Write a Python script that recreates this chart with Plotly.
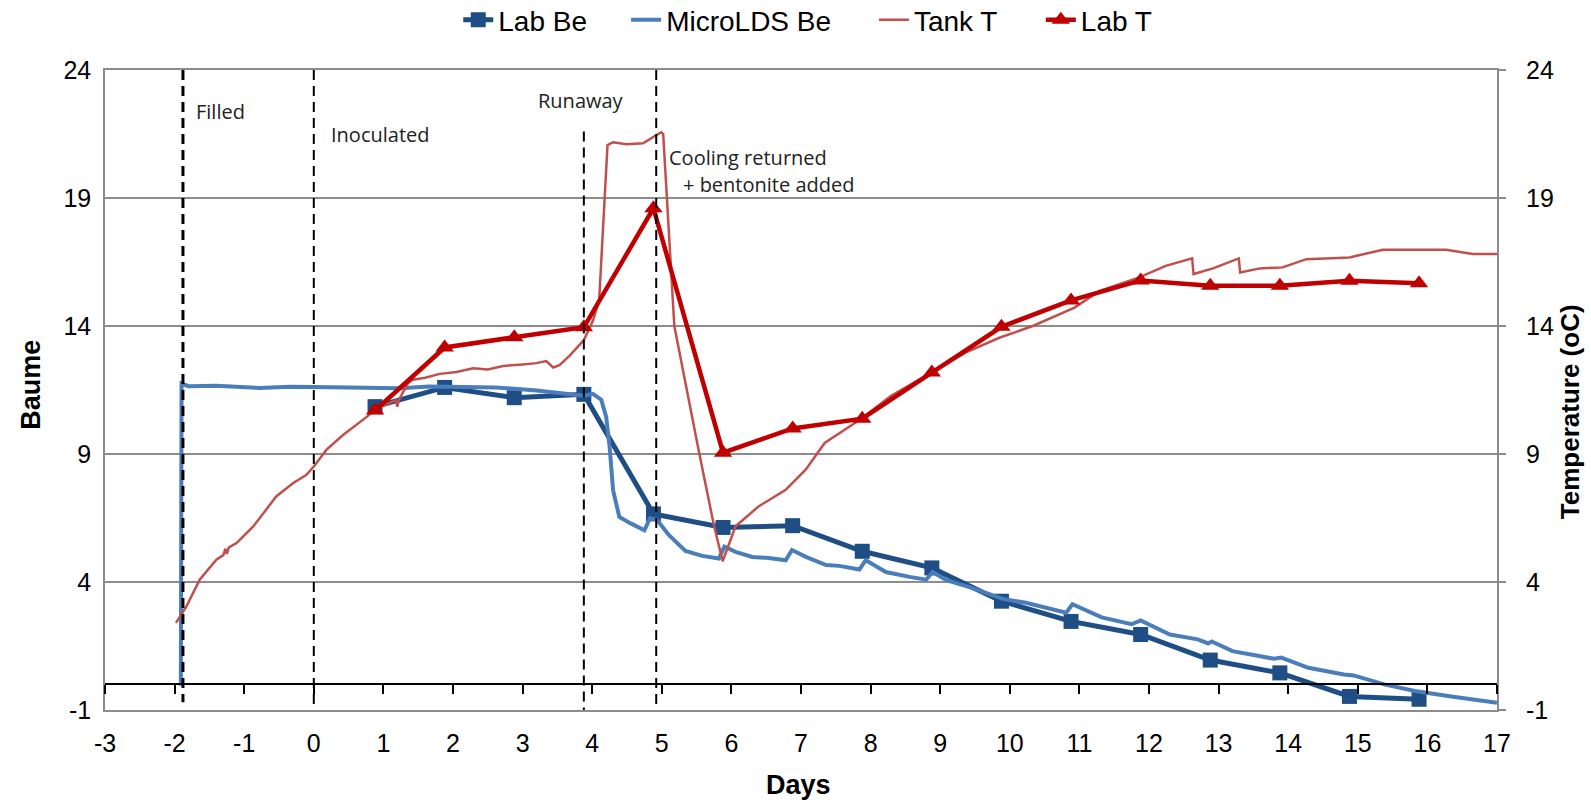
import plotly.graph_objects as go

# ---------------- data ----------------
lab_days = [0.88, 1.88, 2.88, 3.88, 4.88, 5.88, 6.88, 7.88, 8.88, 9.88, 10.88, 11.88, 12.88, 13.88, 14.88, 15.88]
lab_be = [10.85, 11.6, 11.2, 11.33, 6.66, 6.13, 6.2, 5.2, 4.55, 3.25, 2.46, 1.95, 0.95, 0.45, -0.47, -0.58]
lab_t = [10.7, 13.16, 13.56, 13.95, 18.6, 9.05, 10.0, 10.38, 12.18, 13.97, 15.0, 15.78, 15.57, 15.57, 15.77, 15.67]

micro_days = [-1.91, -1.9, -1.8, -1.4, -0.78, -0.35, 0.0, 0.52, 1.24, 1.66, 2.62, 3.2, 3.58, 3.88, 4.01,
              4.13, 4.2, 4.25, 4.3, 4.39, 4.56, 4.75, 4.83, 4.93, 5.1, 5.34, 5.58, 5.82, 5.9, 6.06,
              6.3, 6.54, 6.78, 6.87, 7.07, 7.36, 7.55, 7.84, 7.93, 8.22, 8.56, 8.8, 8.89, 9.09, 9.42,
              9.9, 10.23, 10.66, 10.81, 10.9, 11.32, 11.75, 11.88, 12.3, 12.7, 12.85, 12.9, 13.2, 13.8,
              13.9, 14.29, 14.8, 14.94, 15.38, 15.82, 16.32, 17.0]
micro_be = [-0.05, 11.75, 11.65, 11.67, 11.58, 11.63, 11.62, 11.6, 11.57, 11.64, 11.6, 11.48, 11.35, 11.28, 11.35,
            11.12, 10.46, 9.29, 7.59, 6.54, 6.28, 6.02, 6.49, 6.43, 5.84, 5.21, 5.02, 4.92, 5.38, 5.18,
            4.98, 4.94, 4.85, 5.25, 4.98, 4.66, 4.63, 4.49, 4.85, 4.39, 4.2, 4.09, 4.39, 4.07, 3.8,
            3.34, 3.19, 2.93, 2.8, 3.13, 2.62, 2.35, 2.5, 1.95, 1.76, 1.6, 1.68, 1.3, 1.0,
            1.05, 0.65, 0.39, 0.35, 0.0, -0.26, -0.46, -0.72]

tank_days = [-1.98, -1.83, -1.64, -1.4, -1.3, -1.27, -1.25, -1.22, -1.11, -0.87, -0.54, -0.3, -0.11, 0.0,
             0.18, 0.42, 0.76, 0.87, 1.0, 1.18, 1.2, 1.22, 1.35, 1.42, 1.6, 1.81, 2.05, 2.29, 2.5, 2.72,
             3.0, 3.2, 3.34, 3.44, 3.53, 3.68, 3.88, 4.01, 4.1, 4.18, 4.22, 4.3, 4.49, 4.73, 4.87,
             4.99, 5.02, 5.07, 5.18, 5.54, 5.75, 5.875, 6.06, 6.39, 6.78, 7.07, 7.34, 7.85, 8.29,
             8.87, 9.37, 9.85, 10.33, 10.93, 11.29, 11.86, 12.24, 12.62, 12.64, 12.92, 13.29, 13.31,
             13.59, 13.92, 14.26, 14.88, 15.36, 16.27, 16.65, 17.04]
tank_t = [2.4, 3.05, 4.09, 4.87, 5.05, 5.3, 5.1, 5.35, 5.52, 6.17, 7.34, 7.86, 8.18, 8.51,
          9.16, 9.74, 10.45, 10.7, 10.9, 11.1, 10.85, 11.1, 11.75, 11.9, 11.98, 12.13, 12.2, 12.35, 12.3, 12.44,
          12.5, 12.55, 12.63, 12.38, 12.47, 12.85, 13.45, 14.2, 15.0, 19.0, 21.07, 21.18, 21.1, 21.14, 21.36,
          21.57, 21.5, 19.0, 14.0, 9.0, 6.2, 4.81, 6.18, 6.95, 7.6, 8.4, 9.43, 10.35, 11.26,
          12.18, 12.97, 13.54, 14.0, 14.72, 15.37, 15.9, 16.35, 16.64, 16.03, 16.25, 16.64, 16.09,
          16.25, 16.29, 16.61, 16.68, 16.98, 16.98, 16.81, 16.81]

event_days = [-1.88, 0.0, 3.88, 4.92]
event_tops = [24, 24, 21.6, 24]
event_bottoms = [-0.7, -1, -1, -1]
event_widths = [3, 2, 2, 2]

notes = ["Filled", "Inoculated", "Runaway", "Cooling returned", "+ bentonite added"]
note_x = [-1.72, 0.22, 3.84, 5.08, 5.28]
note_y = [22.38, 21.5, 22.8, 20.6, 19.52]
note_anchor = ["left", "left", "center", "left", "left"]

x_ticks = list(range(-3, 18))
x_tick_text = [str(v) for v in x_ticks]
y_ticks = [-1, 4, 9, 14, 19, 24]
y_tick_text = [str(v) for v in y_ticks]

# ---------------- geometry (page px; body margin removed by post_script) ----------------
W, H = 1591, 807
ML, MT, PW, PH = 104.5, 70, 1393, 640.5


def px_x(page_x):
    return (page_x - ML) / PW


def px_y(page_y):
    return (MT + PH - page_y) / PH


AX_FONT = "Liberation Sans, Arial, sans-serif"
GRID = "#8c8c8c"

fig = go.Figure()
fig.add_trace(go.Scatter(x=lab_days, y=lab_be, name="Lab Be", mode="lines+markers", legend="legend",
                         line=dict(color="#1F4E86", width=5),
                         marker=dict(symbol="square", size=15, color="#1F4E86")))
fig.add_trace(go.Scatter(x=micro_days, y=micro_be, name="MicroLDS Be", mode="lines", legend="legend2",
                         line=dict(color="#4A7EBB", width=4)))
fig.add_trace(go.Scatter(x=tank_days, y=tank_t, name="Tank T", mode="lines", yaxis="y2", legend="legend3",
                         line=dict(color="#C0504D", width=2.5)))
fig.add_trace(go.Scatter(x=lab_days, y=lab_t, name="Lab T", mode="lines+markers", yaxis="y2",
                         legend="legend4", line=dict(color="#C00000", width=4.5),
                         marker=dict(symbol="triangle-up", size=16, color="#C00000")))
# carrier for the zero-crossing axis
fig.add_trace(go.Scatter(x=[x_ticks[0], x_ticks[-1]], y=[None, None], xaxis="x2", yaxis="y",
                         showlegend=False, hoverinfo="skip", mode="lines"))

shapes = []
for d, top, bot, w in zip(event_days, event_tops, event_bottoms, event_widths):
    shapes.append(dict(type="line", xref="x", yref="y", x0=d, x1=d, y0=top, y1=bot,
                       line=dict(color="black", width=w, dash="10px,6px")))

annotations = []
for t, x, y, a in zip(notes, note_x, note_y, note_anchor):
    annotations.append(dict(text=t, x=x, y=y, xref="x", yref="y", xanchor=a, yanchor="middle",
                            showarrow=False, font=dict(family="Open Sans, Noto Sans, sans-serif",
                                                       size=20, color="#222222")))
# right-hand tick labels
for v, t in zip(y_ticks, y_tick_text):
    annotations.append(dict(text=t, x=px_x(1525), y=v, xref="paper", yref="y2", xanchor="left",
                            yanchor="middle", showarrow=False,
                            font=dict(family=AX_FONT, size=25, color="black")))
# axis titles
annotations.append(dict(text="<b>Days</b>", xref="paper", yref="paper", x=px_x(798),
                        y=px_y(786), xanchor="center", yanchor="middle", showarrow=False,
                        font=dict(family=AX_FONT, size=27, color="black")))
annotations.append(dict(text="<b>Baume</b>", xref="paper", yref="paper", x=px_x(30.5),
                        y=px_y(385), xanchor="center", yanchor="middle", showarrow=False,
                        textangle=-90, font=dict(family=AX_FONT, size=27, color="black")))
annotations.append(dict(text="<b>Temperature (oC)</b>", xref="paper", yref="paper",
                        x=px_x(1570), y=px_y(412), xanchor="center",
                        yanchor="middle", showarrow=False, textangle=-90,
                        font=dict(family=AX_FONT, size=26, color="black")))

legend_text_starts = [500, 668, 916, 1083]
legends = {}
for i, ts in enumerate(legend_text_starts):
    key = "legend" if i == 0 else f"legend{i + 1}"
    legends[key] = dict(orientation="h", x=px_x(ts - 42), xanchor="left", y=px_y(20), yanchor="middle",
                        font=dict(family=AX_FONT, size=28, color="black"), bgcolor="rgba(0,0,0,0)",
                        borderwidth=0)

fig.update_layout(
    width=W, height=H,
    margin=dict(l=ML, r=W - ML - PW, t=MT, b=H - MT - PH, autoexpand=False),
    plot_bgcolor="white", paper_bgcolor="white",
    font=dict(family=AX_FONT, size=25, color="black"),
    showlegend=True,
    xaxis=dict(range=[x_ticks[0], x_ticks[-1]], tickvals=x_ticks, ticktext=x_tick_text, ticks="",
               showgrid=False, zeroline=False, showline=True, linecolor=GRID, linewidth=1.5, mirror=True,
               ticklabelstandoff=10, tickfont=dict(size=25)),
    xaxis2=dict(range=[x_ticks[0], x_ticks[-1]], tickvals=x_ticks, overlaying="x", anchor="free",
                position=(0 - y_ticks[0]) / (y_ticks[-1] - y_ticks[0]), side="bottom",
                ticks="outside", ticklen=9, tickwidth=1.5, tickcolor="black",
                showline=True, linecolor="black", linewidth=1.5, showgrid=False, zeroline=False,
                showticklabels=False),
    yaxis=dict(range=[y_ticks[0], y_ticks[-1]], tickvals=y_ticks, ticktext=y_tick_text, showgrid=True,
               gridcolor=GRID, gridwidth=1.5, zeroline=False, showline=True, linecolor=GRID, linewidth=1.5,
               ticks="", ticklabelstandoff=7, tickfont=dict(size=25)),
    yaxis2=dict(range=[y_ticks[0], y_ticks[-1]], tickvals=y_ticks, overlaying="y",
                side="right", showgrid=False, zeroline=False, showline=True, linecolor=GRID, linewidth=1.5,
                ticks="outside", ticklen=7, tickcolor=GRID, tickwidth=1.5, showticklabels=False),
    shapes=shapes,
    annotations=annotations,
    **legends,
)

fig.write_html("out.html", config={"displayModeBar": False},
               post_script="document.body.style.margin='0px';document.body.style.overflow='hidden';")
